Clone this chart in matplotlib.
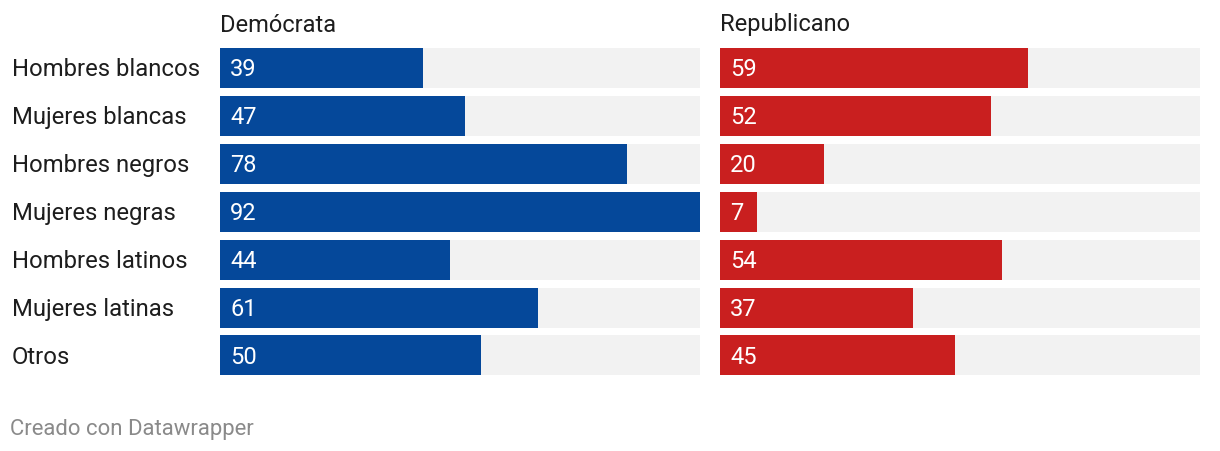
import matplotlib.pyplot as plt

plt.rcParams['font.family'] = ['Roboto', 'DejaVu Sans']

groups = ['Hombres blancos', 'Mujeres blancas', 'Hombres negros', 'Mujeres negras',
          'Hombres latinos', 'Mujeres latinas', 'Otros']
democrata = [39, 47, 78, 92, 44, 61, 50]
republicano = [59, 52, 20, 7, 54, 37, 45]
panels = ['Demócrata', 'Republicano']
colors = ['#05489a', '#c91f1f']

W, H = 1220, 452
fig = plt.figure(figsize=(W / 100, H / 100), dpi=100)
vmax = max(max(democrata), max(republicano))

def px(x0, y0, w, h):  # pixel box -> figure coords
    return [x0 / W, 1 - (y0 + h) / H, w / W, h / H]

for k, (name, vals, col) in enumerate(zip(panels, [democrata, republicano], colors)):
    x0 = 220 + k * 500
    ax = fig.add_axes(px(x0, 44.5, 480, 336))
    ys = range(len(groups))
    ax.barh(ys, [vmax] * len(groups), height=40 / 48, color='#f2f2f2', left=0)
    ax.barh(ys, vals, height=40 / 48, color=col)
    for y, v in zip(ys, vals):
        ax.text(vmax * 10 / 480, y + 0.02, str(v), color='white', fontsize=17,
                va='center', ha='left')
    ax.set_xlim(0, vmax)
    ax.set_ylim(len(groups) - 0.5, -0.5)
    ax.axis('off')
    fig.text(x0 / W, 1 - 25 / H, name, fontsize=17, color='#1d1d1d',
             va='center', ha='left')
    if k == 0:
        for y, g in zip(ys, groups):
            ax.text(-208 / 480 * vmax, y + 0.02, g, fontsize=17.2, color='#1d1d1d',
                    va='center', ha='left', clip_on=False)

fig.text(10 / W, 1 - 429.5 / H, 'Creado con Datawrapper', fontsize=15.9,
         color='#8a8a8a', va='center', ha='left')

fig.savefig('out.png', dpi=100)
